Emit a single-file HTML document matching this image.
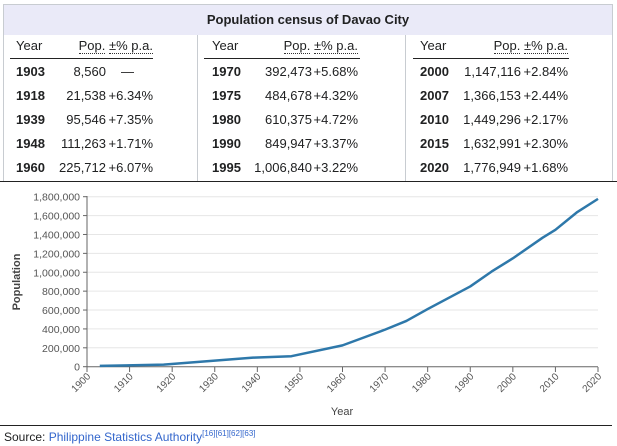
<!DOCTYPE html>
<html><head><meta charset="utf-8"><style>
body{margin:0;width:617px;height:446px;background:#fff;font-family:"Liberation Sans",sans-serif;color:#202122;overflow:hidden;position:relative}
.abs{position:absolute;white-space:nowrap}
.t{font-size:13px}
.b{font-weight:bold}
.r{text-align:right}
.dot{border-bottom:1px dotted #333}
</style></head><body>
<div class="abs" style="left:3px;top:4px;width:608px;height:30px;background:#eaeaf8;border:1px solid #c8ccd1;border-bottom:none"></div>
<div class="abs b" style="left:3px;top:12px;width:610px;text-align:center;font-size:13px">Population census of Davao City</div>
<div class="abs" style="left:197px;top:35px;width:1px;height:146px;background:#c8ccd1"></div>
<div class="abs" style="left:405px;top:35px;width:1px;height:146px;background:#c8ccd1"></div>
<div class="abs" style="left:3px;top:35px;width:1px;height:146px;background:#c8ccd1"></div>
<div class="abs" style="left:612px;top:35px;width:1px;height:146px;background:#c8ccd1"></div>
<div id="tbl"></div>
<div class="abs" style="left:0;top:181px;width:617px;height:1px;background:#222"></div>
<svg class="abs" style="left:0;top:0" width="617" height="446" id="chart"></svg>
<div class="abs" style="left:0;top:425px;width:612px;height:1px;background:#222"></div>
<div class="abs" style="left:4px;top:429px;font-size:12px">Source: <span style="color:#3366cc">Philippine Statistics Authority</span><sup style="color:#3366cc;font-size:8px">[16][61][62][63]</sup></div>
<script>
const years=[1903,1918,1939,1948,1960,1970,1975,1980,1990,1995,2000,2007,2010,2015,2020];
const pops=[8560,21538,95546,111263,225712,392473,484678,610375,849947,1006840,1147116,1366153,1449296,1632991,1776949];
const pctLabels=["—","+6.34%","+7.35%","+1.71%","+6.07%","+5.68%","+4.32%","+4.72%","+3.37%","+3.22%","+2.84%","+2.44%","+2.17%","+2.30%","+1.68%"];
const yTicks=[0,200000,400000,600000,800000,1000000,1200000,1400000,1600000,1800000];
const xTicks=[1900,1910,1920,1930,1940,1950,1960,1970,1980,1990,2000,2010,2020];
const fmt=n=>n.toLocaleString('en-US');
const tbl=document.getElementById('tbl');
const cols=[{y:16,p:106,c:153,u:[10,153]},{y:212,p:312,c:358,u:[204,360]},{y:420,p:521,c:568,u:[413,569]}];
const rowY=[64,88,112,136,160];
let h='';
cols.forEach((c,ci)=>{
 h+=`<div class="abs t" style="left:${c.y}px;top:38px">Year</div>`;
 h+=`<div class="abs t r" style="left:${c.c-110}px;width:110px;top:38px"><span class="dot">Pop.</span> <span class="dot">±% p.a.</span></div>`;
 h+=`<div class="abs" style="left:${c.u[0]}px;top:58px;width:${c.u[1]-c.u[0]}px;height:1px;background:#222"></div>`;
 for(let r=0;r<5;r++){const i=ci*5+r;
  h+=`<div class="abs t b" style="left:${c.y}px;top:${rowY[r]}px">${years[i]}</div>`;
  h+=`<div class="abs t r" style="left:${c.p-80}px;width:80px;top:${rowY[r]}px">${fmt(pops[i])}</div>`;
  if(i===0) h+=`<div class="abs t" style="left:121px;top:${rowY[r]}px">—</div>`;
  else h+=`<div class="abs t r" style="left:${c.c-50}px;width:50px;top:${rowY[r]}px">${pctLabels[i]}</div>`;
 }
});
tbl.innerHTML=h;
const svg=document.getElementById('chart');const NS='http://www.w3.org/2000/svg';
const X=v=>87+(v-1900)/120*(598-87);
const Y=v=>366.7-v/1800000*(366.7-196.7);
function mk(t,a,txt){const e=document.createElementNS(NS,t);for(const k in a)e.setAttribute(k,a[k]);if(txt!=null)e.textContent=txt;svg.appendChild(e);return e;}
yTicks.forEach(v=>{
 const g=mk('line',{x1:87,x2:598,y1:Y(v),y2:Y(v),stroke:v?'#e6e6e6':'#666','stroke-width':1});
 
 const t=mk('line',{x1:83,x2:87,y1:Y(v),y2:Y(v),stroke:'#666'});
 
 const l=mk('text',{x:80,y:Y(v)+4,'text-anchor':'end','font-size':10.5,fill:'#555','font-family':'Liberation Sans'},fmt(v));
 
});
const ax=mk('line',{x1:87,x2:87,y1:196,y2:367,stroke:'#666'});

xTicks.forEach(v=>{
 const t=mk('line',{x1:X(v),x2:X(v),y1:367,y2:372,stroke:'#666'});
 
 const l=mk('text',{x:X(v)+4,y:377,'text-anchor':'end','font-size':10,fill:'#555','font-family':'Liberation Sans',transform:`rotate(-45 ${X(v)+4} 377)`},v);
 
});
const p=mk('polyline',{points:years.map((y,i)=>X(y)+','+Y(pops[i])).join(' '),fill:'none',stroke:'#2e78aa','stroke-width':2.5,'stroke-linejoin':'round'});

const xt=mk('text',{x:342,y:415,'text-anchor':'middle','font-size':11,fill:'#444','font-family':'Liberation Sans'},'Year');

const yt=mk('text',{x:20,y:282,'text-anchor':'middle','font-size':11,'font-weight':'bold',fill:'#444','font-family':'Liberation Sans',transform:'rotate(-90 20 282)'},'Population');

</script>
</body></html>
